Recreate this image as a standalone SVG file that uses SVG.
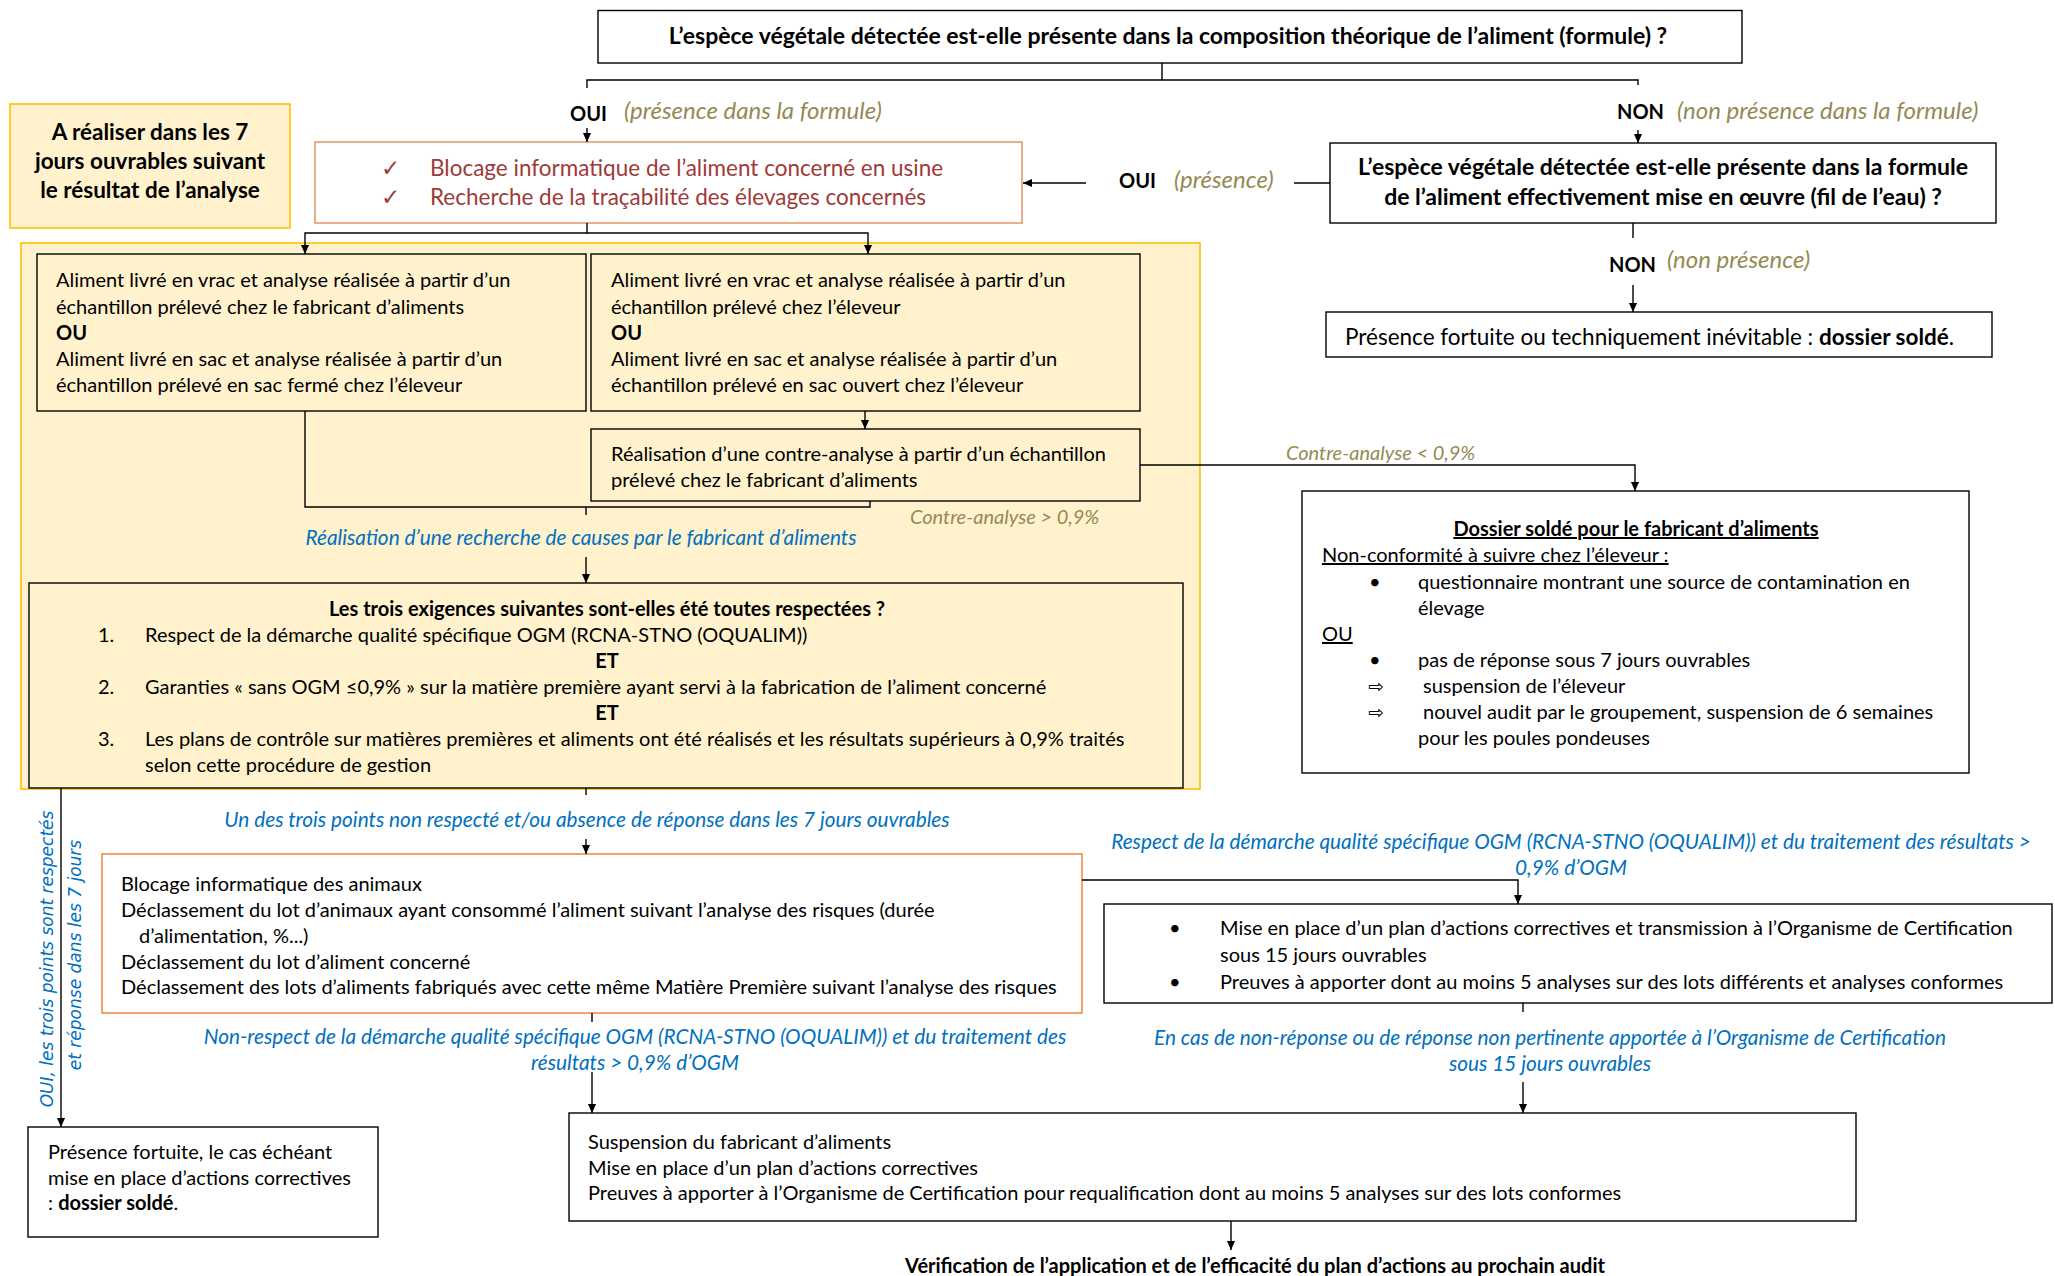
<svg xmlns="http://www.w3.org/2000/svg" width="2055" height="1276" viewBox="0 0 2055 1276">
<defs>
<style>
.t{font-family:Lato,"Liberation Sans",sans-serif;font-size:20px;fill:#000}
.b{font-weight:bold}
.i{font-style:italic}
.big{font-size:23px}
.mid{font-size:22.5px}
.ol{fill:#948A54}
.olb{font-size:24px}
.bl{fill:#0070C0;font-size:20.8px}
.rd{fill:#9E3A38;font-size:22.5px}
.box{fill:#fff;stroke:#000;stroke-width:1.4}
.ybox{fill:#FFF2CC;stroke:#000;stroke-width:1.4}
.obox{fill:#fff;stroke:#ED7D31;stroke-width:1.4}
.obox2{fill:#fff;stroke:#E59A72;stroke-width:1.6}
.gold{fill:#FFF2CC;stroke:#FFC000;stroke-width:1.6}
.c{fill:none;stroke:#000;stroke-width:1.4}
.vt{font-family:"DejaVu Sans",sans-serif;font-style:italic;font-size:17px;fill:#0070C0}
.sym{font-family:"DejaVu Sans",sans-serif;font-size:19px}
</style>
<marker id="ah" viewBox="0 0 10 10" refX="10" refY="5" markerWidth="9" markerHeight="11" markerUnits="userSpaceOnUse" orient="auto"><path d="M0,0.5 L10,5 L0,9.5 z" fill="#000"/></marker>
</defs>
<rect width="2055" height="1276" fill="#fff"/>

<g id="zone7jours">
<rect class="gold" x="21" y="243" width="1179" height="546"/>
</g>

<g id="note7">
<rect class="gold" x="10" y="104" width="280" height="124"/>
<text class="t b mid" text-anchor="middle" x="150" y="140">A réaliser dans les 7</text>
<text class="t b mid" text-anchor="middle" x="150" y="169">jours ouvrables suivant</text>
<text class="t b mid" text-anchor="middle" x="150" y="198">le résultat de l’analyse</text>
</g>

<g id="q1">
<rect class="box" x="598" y="10.5" width="1144" height="52.5"/>
<text class="t b big" text-anchor="middle" x="1168" y="44">L’espèce végétale détectée est-elle présente dans la composition théorique de l’aliment (formule) ?</text>
</g>

<g id="blocage">
<rect class="obox2" x="315" y="142" width="707" height="81"/>
<text class="t rd" x="381" y="176">✓</text>
<text class="t rd" x="430" y="176">Blocage informatique de l’aliment concerné en usine</text>
<text class="t rd" x="381" y="205">✓</text>
<text class="t rd" x="430" y="205">Recherche de la traçabilité des élevages concernés</text>
</g>

<g id="q2">
<rect class="box" x="1330" y="143" width="666" height="80"/>
<text class="t b big" text-anchor="middle" x="1663" y="175">L’espèce végétale détectée est-elle présente dans la formule</text>
<text class="t b big" text-anchor="middle" x="1663" y="205">de l’aliment effectivement mise en œuvre (fil de l’eau) ?</text>
</g>

<g id="fortuite1">
<rect class="box" x="1326" y="312" width="666" height="45"/>
<text class="t mid" x="1345" y="345">Présence fortuite ou techniquement inévitable : <tspan class="b">dossier soldé</tspan>.</text>
</g>

<g id="cas1">
<rect class="ybox" x="37" y="254" width="549" height="157"/>
<text class="t" x="56" y="287">Aliment livré en vrac et analyse réalisée à partir d’un</text>
<text class="t" x="56" y="314">échantillon prélevé chez le fabricant d’aliments</text>
<text class="t b" x="56" y="340">OU</text>
<text class="t" x="56" y="366">Aliment livré en sac et analyse réalisée à partir d’un</text>
<text class="t" x="56" y="392">échantillon prélevé en sac fermé chez l’éleveur</text>
</g>

<g id="cas2">
<rect class="ybox" x="591" y="254" width="549" height="157"/>
<text class="t" x="611" y="287">Aliment livré en vrac et analyse réalisée à partir d’un</text>
<text class="t" x="611" y="314">échantillon prélevé chez l’éleveur</text>
<text class="t b" x="611" y="340">OU</text>
<text class="t" x="611" y="366">Aliment livré en sac et analyse réalisée à partir d’un</text>
<text class="t" x="611" y="392">échantillon prélevé en sac ouvert chez l’éleveur</text>
</g>

<g id="contreanalyse">
<rect class="ybox" x="591" y="429" width="549" height="72"/>
<text class="t" x="611" y="461">Réalisation d’une contre-analyse à partir d’un échantillon</text>
<text class="t" x="611" y="487">prélevé chez le fabricant d’aliments</text>
</g>

<g id="dossierfab">
<rect class="box" x="1302" y="491" width="667" height="282"/>
<text class="t b" text-anchor="middle" x="1636" y="536" text-decoration="underline">Dossier soldé pour le fabricant d’aliments</text>
<text class="t" x="1322" y="562" text-decoration="underline">Non-conformité à suivre chez l’éleveur :</text>
<text class="t" x="1369" y="589">•</text>
<text class="t" x="1418" y="589">questionnaire montrant une source de contamination en</text>
<text class="t" x="1418" y="615">élevage</text>
<text class="t" x="1322" y="641" text-decoration="underline">OU</text>
<text class="t" x="1369" y="667">•</text>
<text class="t" x="1418" y="667">pas de réponse sous 7 jours ouvrables</text>
<text class="t sym" x="1368" y="693">⇨</text>
<text class="t" x="1423" y="693">suspension de l’éleveur</text>
<text class="t sym" x="1368" y="719">⇨</text>
<text class="t" x="1423" y="719">nouvel audit par le groupement, suspension de 6 semaines</text>
<text class="t" x="1418" y="745">pour les poules pondeuses</text>
</g>

<g id="exigences">
<rect class="ybox" x="29" y="583" width="1154" height="205"/>
<text class="t b" text-anchor="middle" x="607" y="616">Les trois exigences suivantes sont-elles été toutes respectées ?</text>
<text class="t" x="98" y="642">1.</text>
<text class="t" x="145" y="642">Respect de la démarche qualité spécifique OGM (RCNA-STNO (OQUALIM))</text>
<text class="t b" text-anchor="middle" x="607" y="668">ET</text>
<text class="t" x="98" y="694">2.</text>
<text class="t" x="145" y="694">Garanties « sans OGM ≤0,9% » sur la matière première ayant servi à la fabrication de l’aliment concerné</text>
<text class="t b" text-anchor="middle" x="607" y="720">ET</text>
<text class="t" x="98" y="746">3.</text>
<text class="t" x="145" y="746">Les plans de contrôle sur matières premières et aliments ont été réalisés et les résultats supérieurs à 0,9% traités</text>
<text class="t" x="145" y="772">selon cette procédure de gestion</text>
</g>

<g id="blocageanimaux">
<rect class="obox" x="102" y="854" width="980" height="159"/>
<text class="t" x="121" y="891">Blocage informatique des animaux</text>
<text class="t" x="121" y="917">Déclassement du lot d’animaux ayant consommé l’aliment suivant l’analyse des risques (durée</text>
<text class="t" x="139" y="943">d’alimentation, %...)</text>
<text class="t" x="121" y="969">Déclassement du lot d’aliment concerné</text>
<text class="t" x="121" y="994">Déclassement des lots d’aliments fabriqués avec cette même Matière Première suivant l’analyse des risques</text>
</g>

<g id="planactions">
<rect class="box" x="1104" y="904" width="948" height="99"/>
<text class="t" x="1169" y="935">•</text>
<text class="t" x="1220" y="935">Mise en place d’un plan d’actions correctives et transmission à l’Organisme de Certification</text>
<text class="t" x="1220" y="962">sous 15 jours ouvrables</text>
<text class="t" x="1169" y="989">•</text>
<text class="t" x="1220" y="989">Preuves à apporter dont au moins 5 analyses sur des lots différents et analyses conformes</text>
</g>

<g id="suspension">
<rect class="box" x="569" y="1113" width="1287" height="108"/>
<text class="t" x="588" y="1149">Suspension du fabricant d’aliments</text>
<text class="t" x="588" y="1175">Mise en place d’un plan d’actions correctives</text>
<text class="t" x="588" y="1200">Preuves à apporter à l’Organisme de Certification pour requalification dont au moins 5 analyses sur des lots conformes</text>
</g>

<g id="fortuite2">
<rect class="box" x="28" y="1127" width="350" height="110"/>
<text class="t" x="48" y="1159">Présence fortuite, le cas échéant</text>
<text class="t" x="48" y="1185">mise en place d’actions correctives</text>
<text class="t" x="48" y="1210">: <tspan class="b">dossier soldé</tspan>.</text>
</g>

<g id="verification">
<text class="t b" text-anchor="middle" x="1255" y="1273">Vérification de l’application et de l’efficacité du plan d’actions au prochain audit</text>
</g>

<g id="connectors">
<path class="c" d="M1162,63 V80 M587,88 V80 H1638 V85"/>
<path class="c" d="M587,128 V142" marker-end="url(#ah)"/>
<path class="c" d="M1638,130 V143" marker-end="url(#ah)"/>
<path class="c" d="M1330,183 H1294"/>
<path class="c" d="M1086,183 H1023" marker-end="url(#ah)"/>
<path class="c" d="M1633,223 V238"/>
<path class="c" d="M1633,285 V312" marker-end="url(#ah)"/>
<path class="c" d="M587,223 V233 H305 V254" marker-end="url(#ah)"/>
<path class="c" d="M587,233 H868 V254" marker-end="url(#ah)"/>
<path class="c" d="M865,411 V429" marker-end="url(#ah)"/>
<path class="c" d="M305,411 V507 H870 V501 M586,507 V515"/>
<path class="c" d="M586,557 V583" marker-end="url(#ah)"/>
<path class="c" d="M1140,465 H1635 V491" marker-end="url(#ah)"/>
<path class="c" d="M586,788 V795"/>
<path class="c" d="M586,839 V854" marker-end="url(#ah)"/>
<path class="c" d="M1082,880 H1518 V904" marker-end="url(#ah)"/>
<path class="c" d="M1523,1003 V1012"/>
<path class="c" d="M1523,1082 V1113" marker-end="url(#ah)"/>
<path class="c" d="M592,1013 V1022"/>
<path class="c" d="M592,1072 V1113" marker-end="url(#ah)"/>
<path class="c" d="M61,788 V1127" marker-end="url(#ah)"/>
<path class="c" d="M1231,1221 V1250" marker-end="url(#ah)"/>
</g>

<g id="labels">
<text class="t b" x="570" y="121" font-size="21">OUI</text>
<text class="t i ol olb" x="624" y="119">(présence dans la formule)</text>
<text class="t b" x="1617" y="119" font-size="21">NON</text>
<text class="t i ol olb" x="1677" y="119">(non présence dans la formule)</text>
<text class="t b" x="1119" y="188" font-size="21">OUI</text>
<text class="t i ol olb" x="1174" y="188">(présence)</text>
<text class="t b" x="1609" y="272" font-size="21">NON</text>
<text class="t i ol olb" x="1667" y="268">(non présence)</text>
<text class="t i ol" x="1286" y="460">Contre-analyse &lt; 0,9%</text>
<text class="t i ol" x="910" y="524">Contre-analyse &gt; 0,9%</text>
<text class="t i bl" text-anchor="middle" x="581" y="545">Réalisation d’une recherche de causes par le fabricant d’aliments</text>
<text class="t i bl" text-anchor="middle" x="587" y="827">Un des trois points non respecté et/ou absence de réponse dans les 7 jours ouvrables</text>
<text class="t i bl" text-anchor="middle" x="1571" y="849">Respect de la démarche qualité spécifique OGM (RCNA-STNO (OQUALIM)) et du traitement des résultats &gt;</text>
<text class="t i bl" text-anchor="middle" x="1571" y="875">0,9% d’OGM</text>
<text class="t i bl" text-anchor="middle" x="1550" y="1045">En cas de non-réponse ou de réponse non pertinente apportée à l’Organisme de Certification</text>
<text class="t i bl" text-anchor="middle" x="1550" y="1071">sous 15 jours ouvrables</text>
<text class="t i bl" text-anchor="middle" x="635" y="1044">Non-respect de la démarche qualité spécifique OGM (RCNA-STNO (OQUALIM)) et du traitement des</text>
<text class="t i bl" text-anchor="middle" x="635" y="1070">résultats &gt; 0,9% d’OGM</text>
<text class="vt" text-anchor="middle" transform="translate(53,959) rotate(-90)">OUI, les trois points sont respectés</text>
<text class="vt" text-anchor="middle" transform="translate(81,955) rotate(-90)">et réponse dans les 7 jours</text>
</g>
</svg>
